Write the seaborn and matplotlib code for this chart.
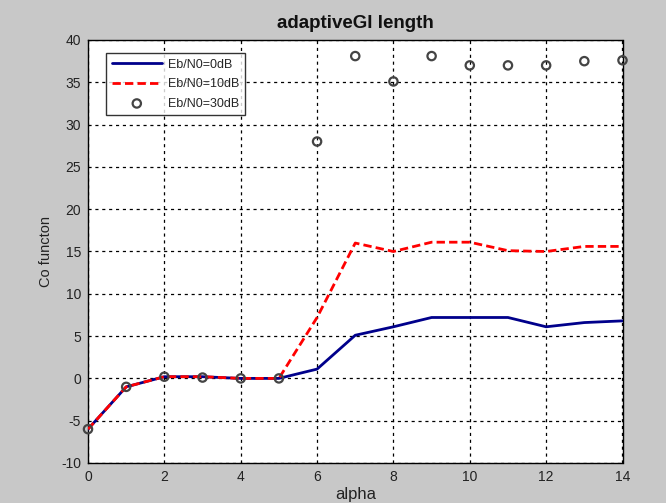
import matplotlib
matplotlib.use("Agg")
import matplotlib.pyplot as plt
import seaborn as sns
import pandas as pd

alpha = [0, 1, 2, 3, 4, 5, 6, 7, 8, 9, 10, 11, 12, 13, 14]
eb0 = [-6, -1, 0.2, 0.2, 0, 0, 1.1, 5.1, 6.1, 7.2, 7.2, 7.2, 6.1, 6.6, 6.8]
eb10 = [-6, -1, 0.2, 0.2, 0, 0, 7.2, 16, 15, 16.1, 16.1, 15.1, 15, 15.6, 15.6]
eb30 = [-6, -1, 0.2, 0.1, 0, 0, 28, 38.1, 35.1, 38.1, 37, 37, 37, 37.5, 37.6]
xticks = [0, 2, 4, 6, 8, 10, 12, 14]
yticks = [-10, -5, 0, 5, 10, 15, 20, 25, 30, 35, 40]

sns.set_style("white")
plt.rcParams['font.family'] = ['Liberation Sans', 'DejaVu Sans']
plt.rcParams['axes.unicode_minus'] = False

fig = plt.figure(figsize=(6.66, 5.03), dpi=100, facecolor='#c8c8c8')
ax = fig.add_axes([88/666, 40/503, (622.5-88)/666, 423/503])
ax.set_facecolor('white')

df = pd.DataFrame({'alpha': alpha, 'eb0': eb0, 'eb10': eb10, 'eb30': eb30})
sns.lineplot(data=df, x='alpha', y='eb0', ax=ax, color='#00008B', lw=2,
             label='Eb/N0=0dB', zorder=3)
sns.lineplot(data=df, x='alpha', y='eb10', ax=ax, color='#ff0000', lw=2,
             linestyle=(0, (3, 1.5)), label='Eb/N0=10dB', zorder=4)
sns.scatterplot(data=df, x='alpha', y='eb30', ax=ax, marker='o', s=36,
                facecolors='none', edgecolor='#444444', linewidth=1.6,
                label='Eb/N0=30dB', zorder=5, clip_on=False)

ax.set_xlim(0, 14)
ax.set_ylim(-10, 40)
ax.set_xticks(xticks)
ax.set_yticks(yticks)
ax.tick_params(labelsize=10, colors='#222222', direction='in', length=4, pad=5)
ax.grid(True, color='black', linestyle=(0, (2.5, 3)), linewidth=0.9)
for sp in ax.spines.values():
    sp.set_color('black')
    sp.set_linewidth(1)
ax.set_title('adaptiveGI length', fontsize=13.5, fontweight='bold', pad=9,
             color='#111111')
ax.set_xlabel('alpha', fontsize=12, labelpad=2, color='#222222')
ax.set_ylabel('Co functon', fontsize=10.5, labelpad=6, color='#222222')

leg = ax.legend(loc='upper left', bbox_to_anchor=(0.034, 0.969), fontsize=9,
                frameon=True, fancybox=False, edgecolor='black',
                handlelength=4.0, handletextpad=0.5, borderpad=0.45,
                labelspacing=0.6, borderaxespad=0)
leg.get_frame().set_linewidth(1)

fig.savefig('out.png', dpi=100, facecolor=fig.get_facecolor())
